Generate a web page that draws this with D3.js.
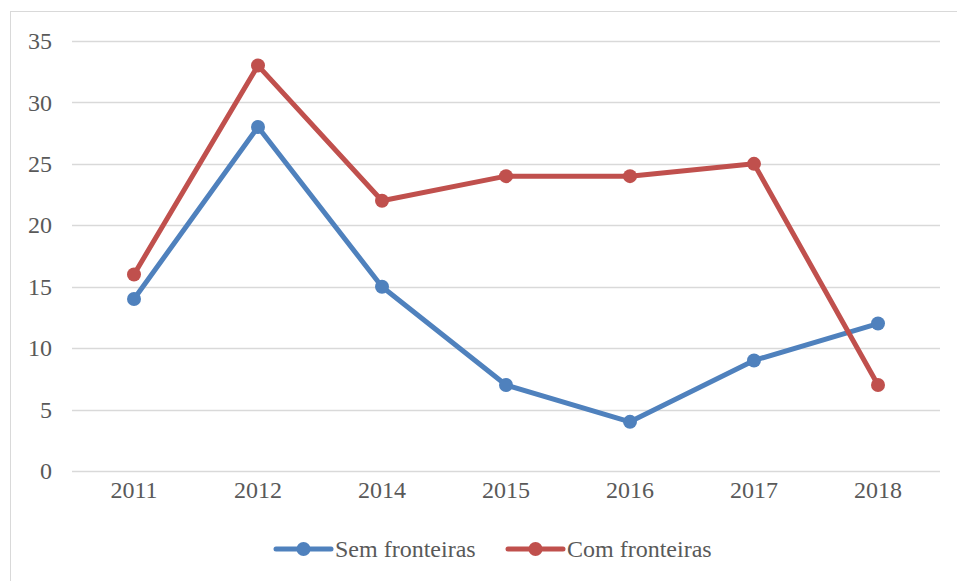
<!DOCTYPE html>
<html>
<head>
<meta charset="utf-8">
<script src="https://cdn.jsdelivr.net/npm/d3@7"></script>
<style>
  body { margin: 0; background: #fff; }
</style>
</head>
<body>
<svg id="chart" width="957" height="581"></svg>
<script>
const years = ['2011', '2012', '2014', '2015', '2016', '2017', '2018'];
const semFronteiras = [14, 28, 15, 7, 4, 9, 12];
const comFronteiras = [16, 33, 22, 24, 24, 25, 7];
const yTicks = [0, 5, 10, 15, 20, 25, 30, 35];

const series = [
  { name: 'Sem fronteiras', values: semFronteiras, color: '#4F81BD' },
  { name: 'Com fronteiras', values: comFronteiras, color: '#C0504D' },
];

const width = 957, height = 581;
const margin = { top: 41, right: 17, bottom: 110, left: 72 };
const fontSize = 24;
const serif = "'Liberation Serif', 'Times New Roman', serif";

const svg = d3.select('#chart')
  .attr('font-family', serif);

// outer chart border
svg.append('rect')
  .attr('x', 10.5).attr('y', 11.5)
  .attr('width', 960).attr('height', 600)
  .attr('fill', 'none')
  .attr('stroke', '#d9d9d9')
  .attr('stroke-width', 1);

const x = d3.scaleBand()
  .domain(years)
  .range([margin.left, width - margin.right]);

const y = d3.scaleLinear()
  .domain([0, 35])
  .range([height - margin.bottom, margin.top]);

// gridlines
svg.append('g')
  .selectAll('line')
  .data(yTicks)
  .join('line')
  .attr('x1', margin.left).attr('x2', width - margin.right)
  .attr('y1', d => Math.round(y(d)) + 0.5)
  .attr('y2', d => Math.round(y(d)) + 0.5)
  .attr('stroke', '#d9d9d9')
  .attr('stroke-width', 1.5);

// y axis labels
const yAxis = svg.append('g')
  .attr('transform', `translate(${margin.left - 20},0)`)
  .call(d3.axisLeft(y).tickValues(yTicks).tickSize(0).tickPadding(0));
yAxis.select('.domain').remove();
yAxis.attr('font-size', fontSize).attr('font-family', serif);
yAxis.selectAll('text').attr('fill', '#595959').attr('font-family', serif);

// x axis labels
const xAxis = svg.append('g')
  .attr('transform', `translate(0,${height - margin.bottom + 19})`)
  .call(d3.axisBottom(x).tickSize(0).tickPadding(0));
xAxis.select('.domain').remove();
xAxis.attr('font-size', fontSize).attr('font-family', serif);
xAxis.selectAll('text').attr('fill', '#595959').attr('font-family', serif)
  .attr('dy', '0.35em');

const line = d3.line()
  .x((d, i) => x(years[i]) + x.bandwidth() / 2)
  .y(d => y(d));

series.forEach(s => {
  const g = svg.append('g');
  g.append('path')
    .datum(s.values)
    .attr('d', line)
    .attr('fill', 'none')
    .attr('stroke', s.color)
    .attr('stroke-width', 5)
    .attr('stroke-linejoin', 'round')
    .attr('stroke-linecap', 'round');
  g.selectAll('circle')
    .data(s.values)
    .join('circle')
    .attr('cx', (d, i) => x(years[i]) + x.bandwidth() / 2)
    .attr('cy', d => y(d))
    .attr('r', 7)
    .attr('fill', s.color);
});

// legend
const legendX = [276, 508];
const legend = svg.append('g')
  .selectAll('g')
  .data(series)
  .join('g')
  .attr('transform', (d, i) => `translate(${legendX[i]},549)`);
legend.append('line')
  .attr('x1', 0).attr('x2', 55)
  .attr('stroke', d => d.color)
  .attr('stroke-width', 5)
  .attr('stroke-linecap', 'round');
legend.append('circle')
  .attr('cx', 27.5).attr('r', 7)
  .attr('fill', d => d.color);
legend.append('text')
  .attr('x', 59).attr('dy', '0.35em')
  .attr('font-size', fontSize)
  .attr('font-family', serif)
  .attr('fill', '#595959')
  .text(d => d.name);
</script>
</body>
</html>
